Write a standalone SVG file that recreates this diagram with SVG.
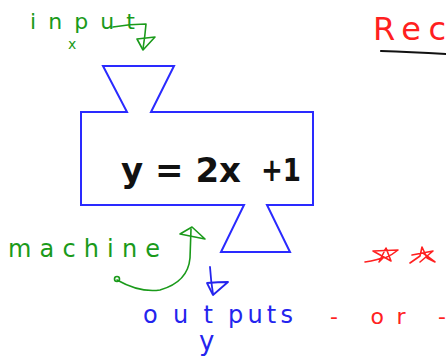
<svg xmlns="http://www.w3.org/2000/svg" width="446" height="359" viewBox="0 0 446 359">
<style>
.g{fill:#1a9a1a;font-family:"DejaVu Sans",sans-serif}
.b{fill:#2424ee;font-family:"DejaVu Sans",sans-serif}
.r{fill:#ff2020;font-family:"DejaVu Sans",sans-serif}
.k{fill:#111;font-family:"DejaVu Sans",sans-serif;font-weight:bold}
.gl{fill:none;stroke:#1a9a1a;stroke-width:1.6;stroke-linecap:round;stroke-linejoin:round}
.bl{fill:none;stroke:#2424ee;stroke-width:1.8;stroke-linecap:round;stroke-linejoin:round}
.rl{fill:none;stroke:#ff2020;stroke-width:1.6;stroke-linecap:round;stroke-linejoin:round}
</style>
<rect width="446" height="359" fill="#fff"/>
<g id="machine">
<path d="M103,66 L174,66 L151,112 L313,112 L313,205 L267,205 L290,252 L221,252 L244,205 L81,205 L81,112 L127,112 Z" fill="none" stroke="#2a2aff" stroke-width="2"/>
<text class="k" x="121" y="182" font-size="34" textLength="120" lengthAdjust="spacing">y = 2x</text>
<text class="k" x="261" y="181" font-size="32" textLength="40" lengthAdjust="spacingAndGlyphs">+1</text>
</g>
<g id="input-label">
<text class="g" x="30" y="29" font-size="22" textLength="105" lengthAdjust="spacing">input</text>
<text class="g" x="68" y="49" font-size="14">x</text>
</g>
<g id="machine-label">
<text class="g" x="8" y="257" font-size="24" textLength="152" lengthAdjust="spacing">machine</text>
</g>
<g id="outputs-label">
<text class="b" x="143" y="323" font-size="24" textLength="70" lengthAdjust="spacing">out</text>
<text class="b" x="228" y="323" font-size="24" textLength="65" lengthAdjust="spacing">puts</text>
<text class="b" x="199" y="350" font-size="26">y</text>
</g>
<g id="rec">
<text class="r" x="373" y="40" font-size="32" textLength="73" lengthAdjust="spacing">Rec</text>
<path d="M381,51 Q410,52 446,54" fill="none" stroke="#111" stroke-width="2.2" stroke-linecap="round"/>
</g>
<g id="or-label">
<text class="r" x="330" y="324" font-size="22" textLength="116" lengthAdjust="spacing">-   or  -</text>
</g>
<g id="stars">
<path class="rl" d="M365,262 Q378,260 384,257 L379,262 L386,248 L391,261 L373,251 L398,250 Q392,255 385,258"/>
<path class="rl" d="M410,263 L420,256 L422,247 L427,258 L435,262 L423,253 L412,255 L433,251 L420,262"/>
</g>
<g id="connectors">
<path class="gl" d="M113,27 Q130,24 146,24 Q145,36 143,49"/>
<path class="gl" d="M137,39 L155,37 L143,50 Z"/>
<path class="gl" d="M117,280 Q140,293 160,290 Q188,282 190,258 L191,229"/>
<circle cx="117" cy="279" r="2.5" class="gl"/>
<path class="gl" d="M180,234 L192,227 L205,239 Z"/>
<path class="bl" d="M210,267 Q211,282 213,294"/>
<path class="bl" d="M207,283 Q218,282 228,282 L213,295 Z"/>
</g>
</svg>
